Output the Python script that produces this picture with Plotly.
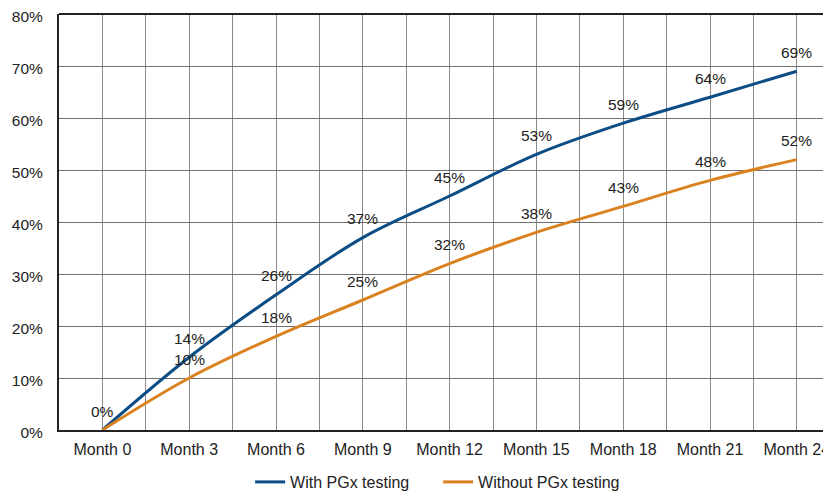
import plotly.graph_objects as go

categories = ["Month 0", "Month 3", "Month 6", "Month 9", "Month 12",
              "Month 15", "Month 18", "Month 21", "Month 24"]
with_pgx = [0, 14, 26, 37, 45, 53, 59, 64, 69]
without_pgx = [0, 10, 18, 25, 32, 38, 43, 48, 52]
y_ticks = [0, 10, 20, 30, 40, 50, 60, 70, 80]
y_tick_labels = [f"{v}%" for v in y_ticks]

BLUE = "#0b4d84"
ORANGE = "#d9821f"
FONT = "Liberation Sans, Arial, sans-serif"

idx = list(range(len(categories)))

fig = go.Figure()
labelled = set()
for name, vals, color in [("With PGx testing", with_pgx, BLUE),
                          ("Without PGx testing", without_pgx, ORANGE)]:
    fig.add_trace(go.Scatter(
        x=idx, y=vals, name=name, mode="lines",
        line=dict(color=color, width=3, shape="spline", smoothing=1.0),
    ))
    for i, v in zip(idx, vals):
        if (i, v) in labelled:
            continue  # identical label already drawn at this point
        labelled.add((i, v))
        fig.add_annotation(x=i, y=v, xref="x", yref="y", text=f"{v}%",
                           showarrow=False, yshift=19, yanchor="middle",
                           font=dict(size=15.5, color="#222", family=FONT))

fig.update_layout(
    width=831, height=492,
    margin=dict(l=51, r=0, t=6, b=70),
    plot_bgcolor="white", paper_bgcolor="white",
    font=dict(family=FONT, size=15.5, color="#222"),
    showlegend=True,
    legend=dict(orientation="h", x=0.245, xanchor="left", y=-0.125, yanchor="middle",
                font=dict(size=16, color="#222"), itemwidth=30, tracegroupgap=0,
                entrywidth=143, bgcolor="rgba(0,0,0,0)"),
    xaxis=dict(
        range=[-0.5, 8.486], tickmode="array", tickvals=idx, ticktext=categories,
        tickfont=dict(size=16),
        showgrid=True, gridcolor="#8a8a8a", gridwidth=1,
        minor=dict(tickmode="array", tickvals=[i + 0.5 for i in idx], showgrid=True,
                   gridcolor="#8a8a8a", gridwidth=1),
        showline=True, linecolor="#222", linewidth=2, zeroline=False,
        ticks="", ticklabelstandoff=4, fixedrange=True, automargin=False,
        ticklabeloverflow="allow",
    ),
    yaxis=dict(
        range=[0, 80], tickmode="array", tickvals=y_ticks, ticktext=y_tick_labels,
        tickfont=dict(size=15.5),
        showgrid=True, gridcolor="#6f6f6f", gridwidth=1,
        showline=True, linecolor="#222", linewidth=2, zeroline=False,
        ticks="", ticklabelstandoff=11, ticklabelshift=3,
        fixedrange=True, automargin=False, ticklabeloverflow="allow",
    ),
)
fig.add_shape(type="line", xref="paper", yref="paper", x0=0, x1=1, y0=1, y1=1,
              line=dict(color="#222", width=2))

fig.write_html("out.html")
